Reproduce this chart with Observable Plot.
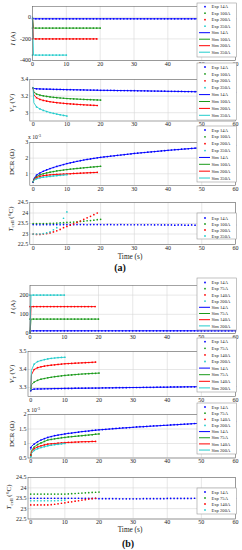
<!DOCTYPE html>
<html><head><meta charset="utf-8">
<script src="https://cdn.jsdelivr.net/npm/d3@7"></script>
<script src="https://cdn.jsdelivr.net/npm/@observablehq/plot@0.6"></script>
<style>
body{margin:0;background:#fff;}
#fig{position:relative;width:242px;height:550px;overflow:hidden;background:#fff;}
</style></head><body><div id="fig"></div>
<script>
// ---- categories ----
const seriesA = ["14A","100A","200A","350A"];
const seriesB = ["14A","75A","140A","200A"];
const seriesColors = ["#0000ff","#1a9a1a","#ff0000","#22cccc"];
const xTicks = [0,10,20,30,40,50,60];

// ---- sample times (s) ----
const tE60 = [0,1,2,3,4,5,6,7,8,9,10,11,12,13,14,15,16,17,18,19,20,21,22,23,24,25,26,27,28,29,30,31,32,33,34,35,36,37,38,39,40,41,42,43,44,45,46,47,48,49,50,51,52,53,54,55,56,57,58,59,60];
const tE20 = [0,1,2,3,4,5,6,7,8,9,10,11,12,13,14,15,16,17,18,19,20];
const tE19 = [0,1,2,3,4,5,6,7,8,9,10,11,12,13,14,15,16,17,18,19];
const tE10 = [0,1,2,3,4,5,6,7,8,9,10];
const tS60 = [0,0.2,1,2,3,5,7,10,15,20,30,40,50,60];
const tS20 = [0,0.2,1,2,3,5,7,10,15,20];
const tS19 = [0,0.2,1,2,3,5,7,10,15,19];
const tS10 = [0,0.2,1,2,3,5,7,10];
const tStep60 = [0,0.3,60];
const tStep20 = [0,0.3,20];
const tStep19 = [0,0.3,19];
const tStep10 = [0,0.3,10];

// ---- (a) current (A) ----
const iA14 = [-14,-14,-14,-14,-14,-14,-14,-14,-14,-14,-14,-14,-14,-14,-14,-14,-14,-14,-14,-14,-14,-14,-14,-14,-14,-14,-14,-14,-14,-14,-14,-14,-14,-14,-14,-14,-14,-14,-14,-14,-14,-14,-14,-14,-14,-14,-14,-14,-14,-14,-14,-14,-14,-14,-14,-14,-14,-14,-14,-14,-14];
const iA100 = [-100,-100,-100,-100,-100,-100,-100,-100,-100,-100,-100,-100,-100,-100,-100,-100,-100,-100,-100,-100,-100];
const iA200 = [-200,-200,-200,-200,-200,-200,-200,-200,-200,-200,-200,-200,-200,-200,-200,-200,-200,-200,-200,-200];
const iA350 = [-350,-350,-350,-350,-350,-350,-350,-350,-350,-350,-350];
const siA14 = [0,-14,-14];
const siA100 = [0,-100,-100];
const siA200 = [0,-200,-200];
const siA350 = [0,-350,-350];

// ---- (a) terminal voltage (V) ----
const vA14 = [3.300,3.288,3.286,3.285,3.284,3.283,3.282,3.281,3.280,3.279,3.278,3.277,3.276,3.276,3.275,3.274,3.273,3.273,3.272,3.271,3.270,3.270,3.269,3.269,3.268,3.267,3.267,3.266,3.266,3.265,3.265,3.264,3.263,3.263,3.262,3.261,3.261,3.260,3.259,3.259,3.258,3.258,3.257,3.256,3.256,3.255,3.255,3.254,3.253,3.253,3.252,3.251,3.251,3.250,3.249,3.249,3.248,3.247,3.247,3.246,3.245];
const vA100 = [3.300,3.225,3.212,3.203,3.196,3.190,3.185,3.181,3.177,3.174,3.171,3.168,3.166,3.164,3.162,3.160,3.158,3.157,3.155,3.154,3.152];
const vA200 = [3.300,3.180,3.160,3.148,3.139,3.132,3.126,3.121,3.117,3.113,3.109,3.106,3.103,3.100,3.098,3.095,3.093,3.091,3.089,3.087];
const vA350 = [3.300,3.070,3.045,3.028,3.014,3.002,2.992,2.983,2.975,2.967,2.960];
const svA14 = [3.300,3.292,3.288,3.286,3.285,3.283,3.281,3.278,3.274,3.270,3.265,3.258,3.252,3.245];
const svA100 = [3.300,3.250,3.225,3.212,3.203,3.190,3.181,3.171,3.160,3.152];
const svA200 = [3.300,3.215,3.180,3.160,3.148,3.132,3.121,3.109,3.095,3.087];
const svA350 = [3.300,3.120,3.070,3.045,3.028,3.002,2.983,2.960];

// ---- (a) DCR (x 10^-3 ohm) ----
const dA14 = [0.46,0.92,1.05,1.16,1.25,1.33,1.40,1.47,1.53,1.59,1.65,1.70,1.75,1.80,1.84,1.88,1.92,1.95,1.99,2.02,2.05,2.08,2.10,2.13,2.15,2.18,2.20,2.22,2.25,2.27,2.30,2.32,2.34,2.36,2.38,2.40,2.42,2.44,2.46,2.48,2.50,2.52,2.54,2.55,2.57,2.59,2.60,2.62,2.64,2.65,2.67,2.69,2.70,2.72,2.73,2.75,2.76,2.78,2.79,2.81,2.82];
const dA100 = [0.50,0.82,0.93,1.00,1.06,1.10,1.14,1.18,1.21,1.24,1.27,1.30,1.32,1.34,1.36,1.38,1.40,1.42,1.44,1.46,1.48];
const dA200 = [0.50,0.76,0.83,0.88,0.91,0.93,0.95,0.96,0.97,0.98,0.99,1.00,1.02,1.03,1.04,1.05,1.06,1.07,1.08,1.09];
const dA350 = [0.50,0.68,0.74,0.78,0.81,0.83,0.86,0.88,0.90,0.92,0.94];
const sdA14 = [0.46,0.70,0.92,1.05,1.16,1.33,1.47,1.65,1.88,2.05,2.30,2.50,2.67,2.82];
const sdA100 = [0.46,0.65,0.82,0.93,1.00,1.10,1.18,1.27,1.38,1.48];
const sdA200 = [0.46,0.62,0.76,0.83,0.88,0.93,0.96,0.99,1.05,1.09];
const sdA350 = [0.46,0.58,0.68,0.74,0.78,0.83,0.88,0.94];

// ---- (a) cell temperature (°C) ----
const cA14 = [23.45,23.45,23.44,23.45,23.45,23.44,23.45,23.45,23.44,23.45,23.45,23.45,23.44,23.45,23.45,23.45,23.44,23.45,23.45,23.45,23.45,23.44,23.45,23.45,23.44,23.44,23.45,23.44,23.44,23.44,23.44,23.44,23.44,23.43,23.44,23.44,23.43,23.44,23.43,23.43,23.43,23.43,23.42,23.43,23.43,23.42,23.42,23.43,23.42,23.42,23.42,23.42,23.42,23.41,23.42,23.42,23.42,23.42,23.42,23.43,23.43];
const cA100 = [23.50,23.50,23.50,23.50,23.50,23.51,23.51,23.52,23.53,23.54,23.55,23.56,23.57,23.58,23.60,23.61,23.63,23.64,23.66,23.68,23.70];
const cA200 = [23.00,22.98,22.98,23.00,23.02,23.05,23.10,23.15,23.22,23.30,23.36,23.42,23.48,23.55,23.62,23.70,23.77,23.84,23.92,24.00];
const cA350 = [23.00,23.00,23.00,23.02,23.05,23.10,23.20,23.30,23.50,23.75,24.05];

// ---- (b) current (A) ----
const iB14 = [14,14,14,14,14,14,14,14,14,14,14,14,14,14,14,14,14,14,14,14,14,14,14,14,14,14,14,14,14,14,14,14,14,14,14,14,14,14,14,14,14,14,14,14,14,14,14,14,14,14,14,14,14,14,14,14,14,14,14,14,14];
const iB75 = [75,75,75,75,75,75,75,75,75,75,75,75,75,75,75,75,75,75,75,75,75];
const iB140 = [140,140,140,140,140,140,140,140,140,140,140,140,140,140,140,140,140,140,140,140];
const iB200 = [200,200,200,200,200,200,200,200,200,200,200];
const siB14 = [0,14,14];
const siB75 = [0,75,75];
const siB140 = [0,140,140];
const siB200 = [0,200,200];

// ---- (b) terminal voltage (V) ----
const vB14 = [3.282,3.291,3.292,3.292,3.293,3.293,3.293,3.294,3.294,3.294,3.295,3.295,3.295,3.296,3.296,3.296,3.296,3.297,3.297,3.297,3.297,3.298,3.298,3.298,3.298,3.299,3.299,3.299,3.299,3.300,3.300,3.300,3.300,3.301,3.301,3.301,3.301,3.302,3.302,3.302,3.302,3.303,3.303,3.303,3.303,3.304,3.304,3.304,3.304,3.305,3.305,3.305,3.305,3.306,3.306,3.306,3.306,3.307,3.307,3.307,3.307];
const vB75 = [3.290,3.330,3.340,3.346,3.350,3.354,3.357,3.360,3.362,3.365,3.367,3.369,3.370,3.372,3.373,3.375,3.376,3.377,3.378,3.379,3.380];
const vB140 = [3.290,3.400,3.410,3.415,3.419,3.422,3.424,3.426,3.428,3.430,3.432,3.433,3.434,3.435,3.436,3.437,3.438,3.439,3.440,3.441];
const vB200 = [3.290,3.430,3.444,3.450,3.455,3.459,3.462,3.464,3.466,3.467,3.468];
const svB14 = [3.282,3.288,3.291,3.292,3.292,3.293,3.294,3.295,3.296,3.297,3.300,3.302,3.305,3.307];
const svB75 = [3.282,3.315,3.330,3.340,3.346,3.354,3.360,3.367,3.375,3.380];
const svB140 = [3.282,3.370,3.400,3.410,3.415,3.422,3.426,3.432,3.437,3.441];
const svB200 = [3.282,3.395,3.430,3.444,3.450,3.459,3.464,3.468];

// ---- (b) DCR (x 10^-3 ohm) ----
const dB14 = [0.86,0.98,1.06,1.12,1.17,1.21,1.24,1.27,1.29,1.31,1.33,1.35,1.36,1.38,1.39,1.41,1.42,1.43,1.45,1.46,1.47,1.48,1.49,1.50,1.51,1.52,1.53,1.54,1.54,1.55,1.56,1.57,1.58,1.58,1.59,1.60,1.61,1.61,1.62,1.63,1.63,1.64,1.65,1.65,1.66,1.67,1.67,1.68,1.69,1.69,1.70,1.71,1.71,1.72,1.72,1.73,1.74,1.74,1.75,1.75,1.76];
const dB75 = [0.60,0.88,0.96,1.02,1.07,1.12,1.14,1.16,1.18,1.20,1.21,1.23,1.24,1.25,1.26,1.27,1.28,1.29,1.30,1.32,1.33];
const dB140 = [0.60,0.82,0.88,0.92,0.95,0.98,0.99,1.00,1.01,1.02,1.03,1.04,1.04,1.05,1.05,1.06,1.06,1.06,1.07,1.07];
const dB200 = [0.55,0.76,0.82,0.86,0.89,0.92,0.94,0.96,0.97,0.99,1.00];
const sdB14 = [0.80,0.90,0.98,1.06,1.12,1.21,1.27,1.33,1.41,1.47,1.56,1.63,1.70,1.76];
const sdB75 = [0.55,0.75,0.88,0.96,1.02,1.12,1.16,1.21,1.27,1.33];
const sdB140 = [0.55,0.70,0.82,0.88,0.92,0.98,1.00,1.03,1.06,1.07];
const sdB200 = [0.52,0.65,0.76,0.82,0.86,0.92,0.96,1.00];

// ---- (b) cell temperature (°C) ----
const cB14 = [23.50,23.50,23.50,23.50,23.50,23.50,23.50,23.50,23.50,23.50,23.50,23.50,23.50,23.50,23.50,23.50,23.49,23.49,23.49,23.49,23.48,23.48,23.48,23.48,23.48,23.48,23.47,23.47,23.47,23.47,23.47,23.47,23.47,23.48,23.48,23.48,23.48,23.48,23.48,23.48,23.49,23.49,23.49,23.49,23.49,23.49,23.49,23.49,23.50,23.50,23.50,23.50,23.50,23.50,23.50,23.50,23.50,23.50,23.50,23.50,23.50];
const cB75 = [23.70,23.70,23.70,23.70,23.70,23.70,23.70,23.70,23.70,23.70,23.70,23.71,23.72,23.73,23.74,23.75,23.76,23.77,23.78,23.79,23.80];
const cB140 = [23.18,23.18,23.18,23.18,23.18,23.18,23.19,23.21,23.23,23.26,23.28,23.31,23.33,23.36,23.38,23.41,23.43,23.46,23.48,23.50];
const cB200 = [23.38,23.38,23.38,23.38,23.38,23.38,23.38,23.38,23.39,23.40,23.41];

// ---- drawing ----
const fig = document.getElementById("fig");
const FONT = "'Liberation Serif', 'Times New Roman', serif";
const rows = (ts, vs) => ts.map((t, i) => ({t, v: vs[i]}));

function panel(cfg) {
  const mt = 4, mb = 10;
  const marks = [
    Plot.gridX(xTicks, {x: d => d, stroke: "#d6d6d6", strokeOpacity: 1, strokeWidth: 0.6}),
    Plot.gridY(cfg.yTicks, {y: d => d, stroke: "#d6d6d6", strokeOpacity: 1, strokeWidth: 0.6})
  ];
  (cfg.sim || []).forEach(([ts, vs], i) =>
    marks.push(Plot.line(rows(ts, vs), {x: "t", y: "v", stroke: seriesColors[i], strokeWidth: 0.9})));
  cfg.exp.forEach(([ts, vs], i) =>
    marks.push(Plot.dot(rows(ts, vs), {x: "t", y: "v", fill: seriesColors[i], r: 0.85})));
  (cfg.simTop || []).forEach(([ts, vs], i) =>
    marks.push(Plot.line(rows(ts, vs), {x: "t", y: "v", stroke: seriesColors[i], strokeWidth: 0.9})));
  marks.push(Plot.frame({stroke: "#666", strokeWidth: 0.6}));
  const svg = Plot.plot({
    width: 242,
    height: cfg.fb - cfg.ft + mt + mb,
    marginTop: mt, marginBottom: mb, marginLeft: cfg.left, marginRight: 7,
    style: {fontFamily: FONT, fontSize: "6px", background: "transparent", color: "#222", overflow: "visible"},
    x: {domain: cfg.xDomain, ticks: xTicks, tickSize: 0, tickPadding: 1.2, tickFormat: d => String(d), label: null},
    y: {domain: cfg.yDomain, ticks: cfg.yTicks, tickSize: 0, tickPadding: 1.5, tickFormat: d => String(d), label: null},
    marks
  });
  svg.style.position = "absolute";
  svg.style.left = "0px";
  svg.style.top = (cfg.ft - mt) + "px";
  fig.appendChild(svg);
}

panel({ft: 5.5, fb: 59.5, left: 32, xDomain: [0, 60], yDomain: [-400, 100], yTicks: [-400, -200, 0],
  exp: [[tE60, iA14], [tE20, iA100], [tE19, iA200], [tE10, iA350]],
  simTop: [[tStep60, siA14], [tStep20, siA100], [tStep19, siA200], [tStep10, siA350]]});
panel({ft: 79, fb: 120.5, left: 29.3, xDomain: [-1, 60], yDomain: [2.9, 3.4], yTicks: [3, 3.2, 3.4],
  sim: [[tS60, svA14], [tS20, svA100], [tS19, svA200], [tS10, svA350]],
  exp: [[tE60, vA14], [tE20, vA100], [tE19, vA200], [tE10, vA350]]});
panel({ft: 142, fb: 185, left: 29.3, xDomain: [-1, 60], yDomain: [0.25, 3], yTicks: [1, 2, 3],
  sim: [[tS60, sdA14], [tS20, sdA100], [tS19, sdA200], [tS10, sdA350]],
  exp: [[tE60, dA14], [tE20, dA100], [tE19, dA200], [tE10, dA350]]});
panel({ft: 201.5, fb: 243.5, left: 29.3, xDomain: [-1, 60], yDomain: [22.5, 24.5], yTicks: [22.5, 23, 23.5, 24, 24.5],
  exp: [[tE60, cA14], [tE20, cA100], [tE19, cA200], [tE10, cA350]]});
panel({ft: 284.5, fb: 332.5, left: 29.5, xDomain: [0, 60], yDomain: [0, 250], yTicks: [0, 100, 200],
  exp: [[tE60, iB14], [tE20, iB75], [tE19, iB140], [tE10, iB200]],
  simTop: [[tStep60, siB14], [tStep20, siB75], [tStep19, siB140], [tStep10, siB200]]});
panel({ft: 351, fb: 396, left: 27.5, xDomain: [-0.8, 60], yDomain: [3.25, 3.5], yTicks: [3.3, 3.4, 3.5],
  sim: [[tS60, svB14], [tS20, svB75], [tS19, svB140], [tS10, svB200]],
  exp: [[tE60, vB14], [tE20, vB75], [tE19, vB140], [tE10, vB200]]});
panel({ft: 414, fb: 457.5, left: 27.5, xDomain: [-0.8, 60], yDomain: [0.5, 2], yTicks: [0.5, 1, 1.5, 2],
  sim: [[tS60, sdB14], [tS20, sdB75], [tS19, sdB140], [tS10, sdB200]],
  exp: [[tE60, dB14], [tE20, dB75], [tE19, dB140], [tE10, dB200]]});
panel({ft: 477, fb: 518.5, left: 27.5, xDomain: [-0.8, 60], yDomain: [22.5, 24.5], yTicks: [22.5, 23, 23.5, 24, 24.5],
  exp: [[tE60, cB14], [tE20, cB75], [tE19, cB140], [tE10, cB200]]});

// ---- overlay: legends and labels ----
const ov = d3.create("svg").attr("width", 242).attr("height", 550)
  .style("position", "absolute").style("left", "0px").style("top", "0px")
  .style("font-family", FONT);

const legends = [
  {top: 3, bottom: 57, y0: 6.7, dy: 6.5, names: seriesA, sim: true},
  {top: 63, bottom: 120, y0: 67, dy: 6.9, names: seriesA, sim: true},
  {top: 126, bottom: 182, y0: 130, dy: 6.86, names: seriesA, sim: true},
  {top: 213, bottom: 239, y0: 218, dy: 6, names: seriesA, sim: false},
  {top: 278, bottom: 330, y0: 282.5, dy: 6.2, names: seriesB, sim: true},
  {top: 338, bottom: 392, y0: 341.7, dy: 6.6, names: seriesB, sim: true},
  {top: 403, bottom: 454, y0: 407, dy: 6.15, names: seriesB, sim: true},
  {top: 488, bottom: 514, y0: 492, dy: 6, names: seriesB, sim: false}
];
for (const L of legends) {
  const g = ov.append("g");
  g.append("rect").attr("x", 197).attr("y", L.top).attr("width", 39.5).attr("height", L.bottom - L.top)
    .attr("fill", "#fff").attr("stroke", "#999").attr("stroke-width", 0.6);
  const entries = L.names.map((n, i) => ({label: "Exp " + n, kind: "exp", c: seriesColors[i]}));
  if (L.sim) L.names.forEach((n, i) => entries.push({label: "Sim " + n, kind: "sim", c: seriesColors[i]}));
  entries.forEach((e, k) => {
    const y = L.y0 + k * L.dy;
    if (e.kind === "exp") g.append("circle").attr("cx", 205).attr("cy", y).attr("r", 0.9).attr("fill", e.c);
    else g.append("line").attr("x1", 199).attr("x2", 210).attr("y1", y).attr("y2", y).attr("stroke", e.c).attr("stroke-width", 1);
    g.append("text").attr("x", 211.5).attr("y", y).attr("dy", "0.35em").attr("font-size", 4.6).attr("fill", "#222").text(e.label);
  });
}

function ylab(x, y, parts) {
  const t = ov.append("text").attr("transform", `translate(${x},${y}) rotate(-90)`)
    .attr("text-anchor", "middle").attr("dy", "0.35em").attr("font-size", 7).attr("fill", "#222");
  for (const p of parts) {
    const s = t.append("tspan").text(p.t);
    if (p.i) s.attr("font-style", "italic");
    if (p.sub) s.attr("font-size", 5).attr("dy", "1.5");
    if (p.up) s.attr("dy", "-1.5");
  }
}
ylab(12.5, 38.5, [{t: "I", i: true}, {t: " (A)"}]);
ylab(12, 103, [{t: "V", i: true}, {t: "T", i: true, sub: true}, {t: " (V)", up: true}]);
ylab(12, 162, [{t: "DCR (Ω)"}]);
ylab(10.5, 219, [{t: "T", i: true}, {t: "cell", sub: true}, {t: " (°C)", up: true}]);
ylab(12.5, 307, [{t: "I", i: true}, {t: " (A)"}]);
ylab(12, 374, [{t: "V", i: true}, {t: "T", i: true, sub: true}, {t: " (V)", up: true}]);
ylab(12, 434, [{t: "DCR (Ω)"}]);
ylab(9, 497, [{t: "T", i: true}, {t: "cell", sub: true}, {t: " (°C)", up: true}]);

function mult(x, y) {
  const t = ov.append("text").attr("x", x).attr("y", y).attr("font-size", 5.5).attr("fill", "#222");
  t.append("tspan").text("x 10");
  t.append("tspan").attr("dy", -2).attr("font-size", 4).text("-3");
}
mult(28, 138.5);
mult(27, 412);

ov.append("text").attr("x", 130).attr("y", 256).attr("dy", "0.35em").attr("text-anchor", "middle").attr("font-size", 7.3).attr("fill", "#222").text("Time (s)");
ov.append("text").attr("x", 130).attr("y", 529).attr("dy", "0.35em").attr("text-anchor", "middle").attr("font-size", 7.3).attr("fill", "#222").text("Time (s)");
ov.append("text").attr("x", 120).attr("y", 267).attr("dy", "0.35em").attr("text-anchor", "middle").attr("font-size", 10).attr("font-weight", "bold").attr("fill", "#111").text("(a)");
ov.append("text").attr("x", 128).attr("y", 543).attr("dy", "0.35em").attr("text-anchor", "middle").attr("font-size", 10).attr("font-weight", "bold").attr("fill", "#111").text("(b)");

fig.appendChild(ov.node());
</script>
</body></html>
